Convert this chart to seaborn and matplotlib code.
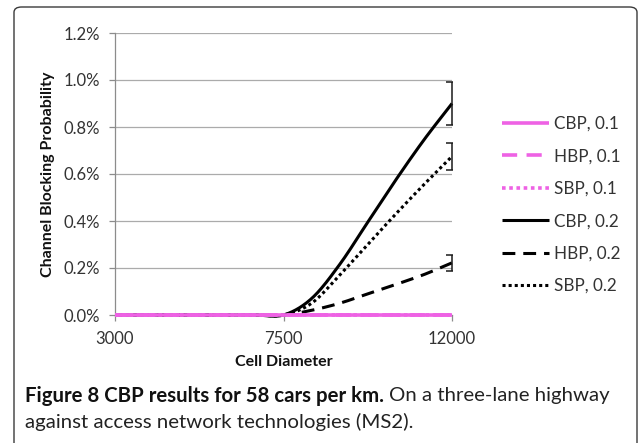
import numpy as np
import pandas as pd
import matplotlib
matplotlib.use("Agg")
import matplotlib.pyplot as plt
import seaborn as sns
from matplotlib.patches import FancyBboxPatch
from matplotlib.ticker import FixedLocator, FuncFormatter

# ---------------- data (values in percent) ----------------
cell_diameter = [3000, 3750, 4500, 5250, 6000, 6750, 7500, 8250, 9000, 9750, 10500, 11250, 12000]
x_tick_values = [3000, 7500, 12000]
x_tick_labels = ["3000", "7500", "12000"]
series_names = ["CBP, 0.1", "HBP, 0.1", "SBP, 0.1", "CBP, 0.2", "HBP, 0.2", "SBP, 0.2"]
cbp_01 = [0, 0, 0, 0, 0, 0, 0, 0, 0, 0, 0, 0, 0]
hbp_01 = [0, 0, 0, 0, 0, 0, 0, 0, 0, 0, 0, 0, 0]
sbp_01 = [0, 0, 0, 0, 0, 0, 0, 0, 0, 0, 0, 0, 0]
cbp_02 = [0, 0, 0, 0, 0, 0, 0, 0.07, 0.215, 0.395, 0.575, 0.745, 0.90]
hbp_02 = [0, 0, 0, 0, 0, 0, 0, 0.02, 0.05, 0.09, 0.13, 0.172, 0.222]
sbp_02 = [0, 0, 0, 0, 0, 0, 0, 0.05, 0.17, 0.30, 0.43, 0.555, 0.675]
# symmetric error bars at the last point of the 0.2 series
err_names = ["CBP, 0.2", "HBP, 0.2", "SBP, 0.2"]
err_size = [0.09, 0.033, 0.057]
y_ticks = [0.0, 0.2, 0.4, 0.6, 0.8, 1.0, 1.2]

values = {
    "CBP, 0.1": cbp_01, "HBP, 0.1": hbp_01, "SBP, 0.1": sbp_01,
    "CBP, 0.2": cbp_02, "HBP, 0.2": hbp_02, "SBP, 0.2": sbp_02,
}

PINK = "#EE62E4"
BLACK = "#000000"
colors = {n: (PINK if n.endswith("0.1") else BLACK) for n in series_names}
widths = {n: (2.6 if n.endswith("0.1") else 2.2) for n in series_names}
styles = {
    "CBP": "-",
    "HBP": (0, (4.2, 2.6)),
    "SBP": (0, (1.0, 1.0)),
}


def excel_smooth(xs, ys, n=24):
    """Excel-like smoothed line rendering (cubic Bezier, tension 1/6) through the points."""
    P = np.column_stack([np.asarray(xs, float), np.asarray(ys, float)])
    Q = np.vstack([P[:1], P, P[-1:]])
    t = np.linspace(0, 1, n)[:, None]
    out = []
    for i in range(len(P) - 1):
        p0, p3 = Q[i + 1], Q[i + 2]
        c1 = p0 + (Q[i + 2] - Q[i]) / 6.0
        c2 = p3 - (Q[i + 3] - Q[i + 1]) / 6.0
        seg = ((1 - t) ** 3) * p0 + 3 * ((1 - t) ** 2) * t * c1 + 3 * (1 - t) * t ** 2 * c2 + t ** 3 * p3
        out.append(seg if i == 0 else seg[1:])
    out = np.vstack(out)
    return out[:, 0], out[:, 1]


# ---------------- figure ----------------
sns.set_theme(style="white")
plt.rcParams["font.family"] = ["Lato", "DejaVu Sans"]

W, H = 639, 443
fig = plt.figure(figsize=(W / 100, H / 100), dpi=100)
fig.patch.set_facecolor("white")

# rounded frame
frame = FancyBboxPatch((14 / W, -0.2), (637 - 14) / W, 1.2 - 7 / H,
                       boxstyle="round,pad=0,rounding_size=0.012",
                       transform=fig.transFigure, facecolor="none",
                       edgecolor="#3a3a3a", linewidth=1.0, zorder=0)
fig.patches.append(frame)

L, R, T, B = 115, 452, 33, 315
ax = fig.add_axes([L / W, 1 - B / H, (R - L) / W, (B - T) / H])
ax.set_facecolor("white")

for name in series_names:
    sx, sy = excel_smooth(cell_diameter, values[name])
    df = pd.DataFrame({"x": sx, "y": sy})
    kind = name.split(",")[0]
    sns.lineplot(data=df, x="x", y="y", ax=ax, color=colors[name], linewidth=widths[name],
                 linestyle=styles[kind], label=name, sort=False, estimator=None,
                 zorder=4 if name.endswith("0.1") else 3)
for line in ax.lines:
    line.set_clip_on(False)
    line.set_solid_capstyle("butt")
    line.set_dash_capstyle("butt")

# error bars
ey = [values[n][-1] for n in err_names]
eb = ax.errorbar([cell_diameter[-1]] * len(err_names), ey, yerr=err_size, fmt="none",
                 ecolor="#1a1a1a", elinewidth=1.1, capsize=4, capthick=1.1, zorder=5)
for coll in eb[2]:
    coll.set_clip_on(False)

# axes styling
ax.set_xlim(cell_diameter[0], cell_diameter[-1])
ax.set_ylim(y_ticks[0], y_ticks[-1])
ax.xaxis.set_major_locator(FixedLocator(x_tick_values))
ax.set_xticklabels(x_tick_labels)
ax.yaxis.set_major_locator(FixedLocator(y_ticks))
ax.yaxis.set_major_formatter(FuncFormatter(lambda v, p: f"{v:.1f}%"))
ax.grid(axis="y", color="#ABABAB", linewidth=0.9)
ax.set_axisbelow(True)
for s in ["top", "right"]:
    ax.spines[s].set_visible(False)
for s in ["left", "bottom"]:
    ax.spines[s].set_color("#8C8C8C")
    ax.spines[s].set_linewidth(0.9)
ax.tick_params(axis="both", which="major", direction="out", length=4, width=0.9,
               color="#8C8C8C", labelsize=12, labelcolor="#333333")
ax.tick_params(axis="y", pad=7)
ax.tick_params(axis="x", pad=7.5)
ax.yaxis.set_ticks_position("left")
ax.xaxis.set_ticks_position("bottom")

ax.set_xlabel("Cell Diameter", fontsize=11.5, fontweight="bold", color="#111111")
ax.set_ylabel("Channel Blocking Probability", fontsize=11.5, fontweight="bold", color="#111111")
ax.xaxis.label.set_va("center")
ax.yaxis.label.set_va("center")
ax.xaxis.set_label_coords(0.5, (B - 362) / (B - T))
ax.yaxis.set_label_coords((48 - L) / (R - L), 0.5)

handles, labels = ax.get_legend_handles_labels()
ax.legend(handles, labels, loc="upper left", bbox_to_anchor=(502 / W, 1 - 116 / H),
          bbox_transform=fig.transFigure, frameon=False, borderpad=0, borderaxespad=0,
          handlelength=2.75, handletextpad=0.3, labelspacing=0.96, fontsize=12.3,
          labelcolor="#333333")

# caption
renderer = fig.canvas.get_renderer()
cap_x, cap_y1, cap_y2 = 25 / W, 1 - 396 / H, 1 - 422 / H
cap_fs = 14.7
t1 = fig.text(cap_x, cap_y1, "Figure 8 CBP results for 58 cars per km.", fontsize=cap_fs,
              fontweight="bold", ha="left", va="center", color="#111111")
bb = t1.get_window_extent(renderer=renderer)
fig.text(bb.x1 / fig.bbox.width + 5 / W, cap_y1, "On a three-lane highway", fontsize=cap_fs,
         ha="left", va="center", color="#222222")
fig.text(cap_x, cap_y2, "against access network technologies (MS2).", fontsize=cap_fs,
         ha="left", va="center", color="#222222")

fig.savefig("out.png", dpi=100)
